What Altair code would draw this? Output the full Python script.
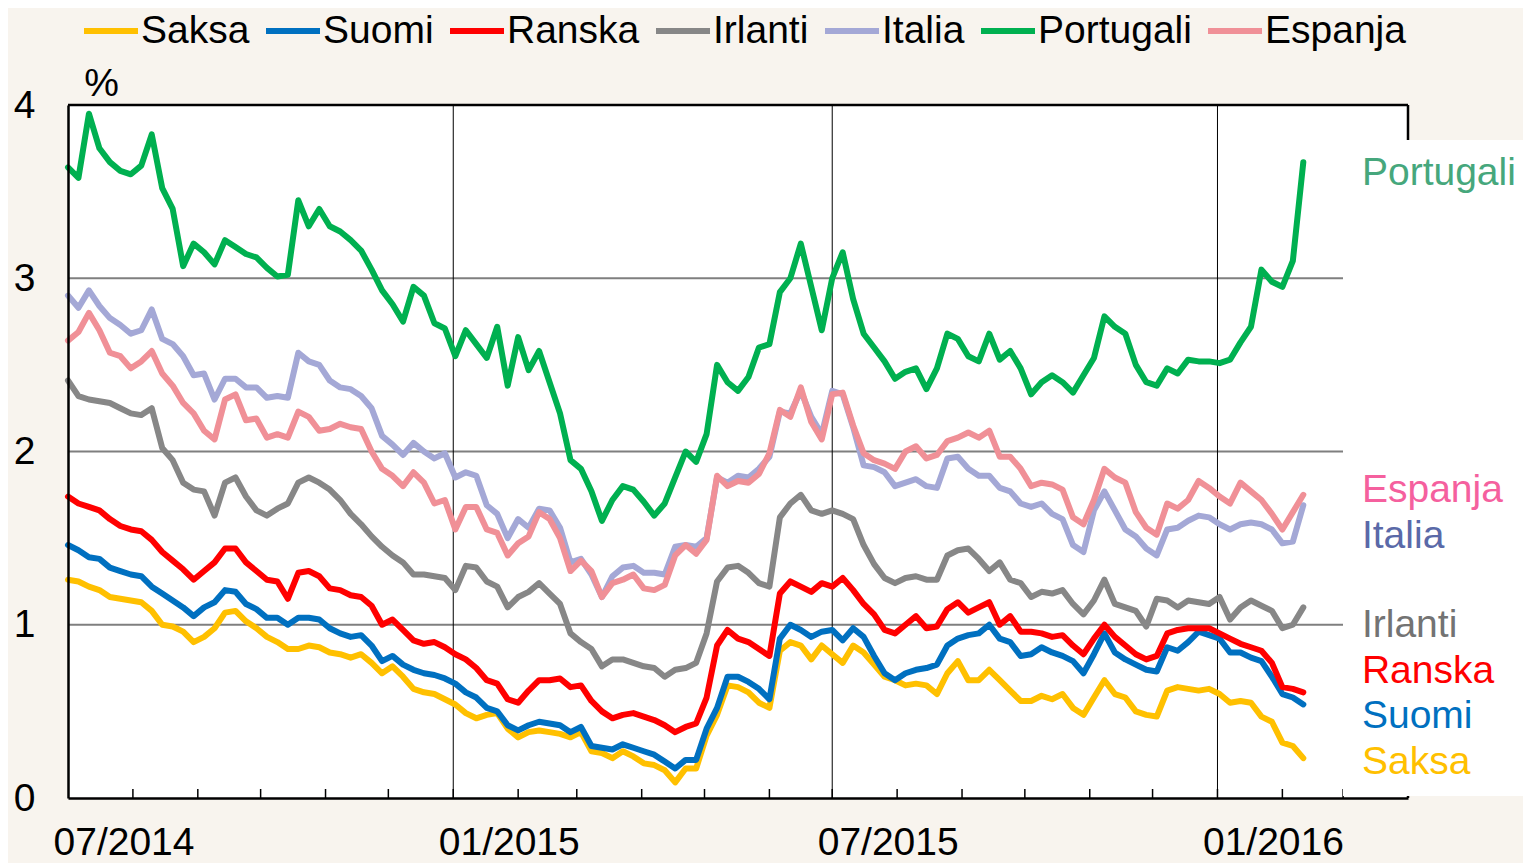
import altair as alt
import pandas as pd

# ---------------- data ----------------
n_points = 119
dates = pd.date_range("2014-07-01", periods=n_points, freq="5D").strftime("%Y-%m-%d").tolist()

series_names = ["Saksa", "Suomi", "Ranska", "Irlanti", "Italia", "Portugali", "Espanja"]
line_colors = ["#FFC000", "#0070C0", "#FF0000", "#878787", "#A4A8D6", "#00B050", "#F09097"]
label_colors = ["#FFC000", "#0070C0", "#FF0000", "#737373", "#5A69A8", "#46A77C", "#F5609E"]

saksa = [1.26, 1.25, 1.22, 1.20, 1.16, 1.15, 1.14, 1.13, 1.08, 1.00, 0.99, 0.96, 0.90, 0.93, 0.98, 1.07, 1.08, 1.02, 0.98, 0.93, 0.90,
         0.86, 0.86, 0.88, 0.87, 0.84, 0.83, 0.81, 0.83, 0.78, 0.72, 0.76, 0.70, 0.63, 0.61, 0.60, 0.57, 0.54, 0.49, 0.46, 0.48,
         0.49, 0.40, 0.35, 0.38, 0.39, 0.38, 0.37, 0.35, 0.38, 0.27, 0.26, 0.23, 0.27, 0.24, 0.20, 0.19, 0.16, 0.09, 0.17, 0.17,
         0.36, 0.48, 0.65, 0.64, 0.61, 0.55, 0.52, 0.85, 0.90, 0.88, 0.80, 0.88, 0.83, 0.78, 0.88, 0.84, 0.77, 0.70, 0.68, 0.65,
         0.66, 0.65, 0.60, 0.72, 0.79, 0.68, 0.68, 0.74, 0.68, 0.62, 0.56, 0.56, 0.59, 0.57, 0.60, 0.52, 0.48, 0.58, 0.68, 0.60,
         0.58, 0.50, 0.48, 0.47, 0.62, 0.64, 0.63, 0.62, 0.63, 0.60, 0.55, 0.56, 0.55, 0.47, 0.44, 0.32, 0.30, 0.23]
suomi = [1.46, 1.43, 1.39, 1.38, 1.33, 1.31, 1.29, 1.28, 1.22, 1.18, 1.14, 1.10, 1.05, 1.10, 1.13, 1.20, 1.19, 1.12, 1.09, 1.04, 1.04,
         1.00, 1.04, 1.04, 1.03, 0.98, 0.95, 0.93, 0.94, 0.88, 0.79, 0.82, 0.77, 0.74, 0.72, 0.71, 0.69, 0.66, 0.61, 0.58, 0.52,
         0.50, 0.42, 0.39, 0.42, 0.44, 0.43, 0.42, 0.38, 0.41, 0.30, 0.29, 0.28, 0.31, 0.29, 0.27, 0.25, 0.21, 0.17, 0.22, 0.22,
         0.40, 0.52, 0.70, 0.70, 0.67, 0.63, 0.57, 0.92, 1.00, 0.97, 0.93, 0.96, 0.97, 0.91, 0.98, 0.93, 0.82, 0.72, 0.68, 0.72,
         0.74, 0.75, 0.77, 0.88, 0.92, 0.94, 0.95, 1.00, 0.92, 0.90, 0.82, 0.83, 0.87, 0.84, 0.82, 0.79, 0.72, 0.83, 0.95, 0.84,
         0.80, 0.77, 0.74, 0.73, 0.87, 0.85, 0.90, 0.96, 0.94, 0.92, 0.84, 0.84, 0.81, 0.79, 0.70, 0.60, 0.58, 0.54]
ranska = [1.74, 1.70, 1.68, 1.66, 1.61, 1.57, 1.55, 1.54, 1.49, 1.42, 1.37, 1.32, 1.26, 1.31, 1.36, 1.44, 1.44, 1.36, 1.31, 1.26, 1.25,
          1.15, 1.30, 1.31, 1.28, 1.21, 1.20, 1.17, 1.16, 1.11, 1.00, 1.03, 0.97, 0.91, 0.89, 0.90, 0.87, 0.83, 0.80, 0.75, 0.68,
          0.66, 0.57, 0.55, 0.62, 0.68, 0.68, 0.69, 0.64, 0.65, 0.56, 0.50, 0.46, 0.48, 0.49, 0.47, 0.45, 0.42, 0.38, 0.41, 0.43,
          0.58, 0.88, 0.97, 0.92, 0.90, 0.86, 0.82, 1.18, 1.25, 1.22, 1.19, 1.24, 1.22, 1.27, 1.20, 1.12, 1.06, 0.97, 0.95, 1.00,
          1.05, 0.98, 0.99, 1.09, 1.13, 1.07, 1.10, 1.13, 1.00, 1.05, 0.96, 0.96, 0.95, 0.93, 0.94, 0.88, 0.83, 0.92, 1.00, 0.93,
          0.88, 0.83, 0.80, 0.82, 0.95, 0.97, 0.98, 0.98, 0.98, 0.95, 0.92, 0.89, 0.87, 0.85, 0.78, 0.64, 0.63, 0.61]
irlanti = [2.41, 2.32, 2.30, 2.29, 2.28, 2.25, 2.22, 2.21, 2.25, 2.02, 1.95, 1.82, 1.78, 1.77, 1.63, 1.82, 1.85, 1.74, 1.66, 1.63, 1.67,
           1.70, 1.82, 1.85, 1.82, 1.78, 1.72, 1.64, 1.58, 1.51, 1.45, 1.40, 1.36, 1.29, 1.29, 1.28, 1.27, 1.20, 1.34, 1.33, 1.25,
           1.22, 1.10, 1.16, 1.19, 1.24, 1.18, 1.12, 0.95, 0.90, 0.86, 0.76, 0.80, 0.80, 0.78, 0.76, 0.75, 0.70, 0.74, 0.75, 0.78,
           0.95, 1.25, 1.33, 1.34, 1.30, 1.24, 1.22, 1.62, 1.70, 1.75, 1.66, 1.64, 1.66, 1.64, 1.61, 1.46, 1.35, 1.27, 1.24, 1.27,
           1.28, 1.26, 1.26, 1.40, 1.43, 1.44, 1.38, 1.31, 1.36, 1.26, 1.24, 1.16, 1.19, 1.18, 1.20, 1.12, 1.06, 1.14, 1.26, 1.12,
           1.10, 1.08, 0.99, 1.15, 1.14, 1.10, 1.14, 1.13, 1.12, 1.16, 1.03, 1.10, 1.14, 1.11, 1.08, 0.98, 1.00, 1.10]
italia = [2.90, 2.83, 2.93, 2.84, 2.77, 2.73, 2.68, 2.70, 2.82, 2.65, 2.62, 2.55, 2.44, 2.45, 2.30, 2.42, 2.42, 2.37, 2.37, 2.31, 2.32,
          2.31, 2.57, 2.52, 2.50, 2.41, 2.37, 2.36, 2.32, 2.25, 2.09, 2.04, 1.98, 2.05, 2.00, 1.96, 1.99, 1.85, 1.88, 1.86, 1.69,
          1.64, 1.50, 1.61, 1.56, 1.67, 1.66, 1.56, 1.36, 1.38, 1.29, 1.16, 1.28, 1.33, 1.34, 1.30, 1.30, 1.29, 1.45, 1.46, 1.45,
          1.50, 1.85, 1.82, 1.86, 1.85, 1.90, 1.97, 2.23, 2.22, 2.35, 2.20, 2.10, 2.35, 2.33, 2.14, 1.92, 1.91, 1.88, 1.80, 1.82,
          1.84, 1.80, 1.79, 1.96, 1.97, 1.90, 1.86, 1.86, 1.79, 1.77, 1.70, 1.68, 1.70, 1.64, 1.61, 1.46, 1.42, 1.66, 1.77, 1.66,
          1.55, 1.51, 1.44, 1.40, 1.55, 1.56, 1.60, 1.63, 1.62, 1.58, 1.55, 1.58, 1.59, 1.58, 1.55, 1.47, 1.48, 1.69]
portugali = [3.64, 3.58, 3.95, 3.75, 3.67, 3.62, 3.60, 3.65, 3.83, 3.52, 3.40, 3.07, 3.20, 3.15, 3.08, 3.22, 3.18, 3.14, 3.12, 3.06, 3.01,
             3.02, 3.45, 3.30, 3.40, 3.30, 3.27, 3.22, 3.16, 3.05, 2.93, 2.85, 2.75, 2.95, 2.90, 2.74, 2.71, 2.55, 2.70, 2.62, 2.54,
             2.72, 2.38, 2.66, 2.47, 2.58, 2.40, 2.22, 1.95, 1.90, 1.77, 1.60, 1.72, 1.80, 1.78, 1.71, 1.63, 1.70, 1.85, 2.00, 1.94,
             2.10, 2.50, 2.40, 2.35, 2.43, 2.60, 2.62, 2.92, 3.00, 3.20, 2.95, 2.70, 3.00, 3.15, 2.88, 2.68, 2.60, 2.52, 2.42, 2.46,
             2.48, 2.36, 2.48, 2.68, 2.65, 2.55, 2.52, 2.68, 2.53, 2.58, 2.48, 2.33, 2.40, 2.44, 2.40, 2.34, 2.44, 2.54, 2.78, 2.72,
             2.68, 2.50, 2.40, 2.38, 2.48, 2.45, 2.53, 2.52, 2.52, 2.51, 2.53, 2.63, 2.72, 3.05, 2.98, 2.95, 3.10, 3.67]
espanja = [2.64, 2.69, 2.80, 2.70, 2.57, 2.55, 2.48, 2.52, 2.58, 2.45, 2.38, 2.28, 2.22, 2.12, 2.07, 2.30, 2.33, 2.18, 2.19, 2.08, 2.10,
           2.08, 2.23, 2.20, 2.12, 2.13, 2.16, 2.14, 2.13, 2.00, 1.90, 1.86, 1.80, 1.88, 1.82, 1.70, 1.72, 1.55, 1.68, 1.68, 1.55,
           1.53, 1.40, 1.47, 1.51, 1.65, 1.61, 1.50, 1.31, 1.37, 1.31, 1.16, 1.24, 1.26, 1.29, 1.21, 1.20, 1.23, 1.40, 1.46, 1.41,
           1.49, 1.86, 1.80, 1.83, 1.82, 1.87, 1.99, 2.24, 2.20, 2.37, 2.17, 2.07, 2.33, 2.34, 2.15, 1.99, 1.95, 1.93, 1.90, 2.00,
           2.03, 1.96, 1.98, 2.06, 2.08, 2.11, 2.08, 2.12, 1.97, 1.97, 1.90, 1.80, 1.82, 1.81, 1.78, 1.62, 1.58, 1.72, 1.90, 1.85,
           1.82, 1.65, 1.56, 1.52, 1.70, 1.67, 1.72, 1.83, 1.79, 1.74, 1.70, 1.82, 1.77, 1.72, 1.64, 1.55, 1.65, 1.75]

series_values = [saksa, suomi, ranska, irlanti, italia, portugali, espanja]

# end-of-line labels (annotation anchors)
label_date = "2016-03-10"
label_values = [0.21, 0.475, 0.735, 1.0, 1.515, 3.61, 1.78]

y_ticks = [0, 1, 2, 3, 4]
grid_levels = [1, 2, 3]
halfyear_lines = ["2015-01-01", "2015-07-01", "2016-01-01"]
month_ticks = pd.date_range("2014-08-01", "2016-03-01", freq="MS").strftime("%Y-%m-%d").tolist()

rows = []
for name, vals in zip(series_names, series_values):
    assert len(vals) == n_points, (name, len(vals))
    for d, v in zip(dates, vals):
        rows.append({"date": d, "value": v, "series": name})
df = pd.DataFrame(rows)

# ---------------- chart ----------------
W, H = 1340, 693
FONT = "Liberation Sans"
FS = 39


def dt(y, m, d):
    return alt.DateTime(year=y, month=m, date=d, utc=True)


xscale = alt.Scale(type="utc", domain=[dt(2014, 7, 1), dt(2016, 4, 1)])
yscale = alt.Scale(domain=[0, 4], nice=False, zero=False)

x_axis = alt.Axis(values=[dt(2014, 7, 1), dt(2015, 1, 1), dt(2015, 7, 1), dt(2016, 1, 1)],
                  labelExpr="utcFormat(datum.value, '%m/%Y')", labelAlign="left", labelOffset=-15,
                  labelPadding=25, labelBaseline="top", tickSize=0, grid=False,
                  domainColor="black", domainWidth=2.5, labelFontSize=FS, labelColor="black",
                  labelFont=FONT, title=None, zindex=1, labelFlush=False, labelOverlap=False)
y_axis = alt.Axis(values=y_ticks, tickSize=0, labelPadding=33, grid=False,
                  domainColor="black", domainWidth=2.5, labelFontSize=FS, labelColor="black",
                  labelFont=FONT, title="%", titleAngle=0, titleX=33, titleY=-22,
                  titleAlign="center", titleBaseline="middle", titleFontSize=FS,
                  titleFontWeight="normal", titleColor="black", titleFont=FONT,
                  zindex=1, labelFlush=False)

X = alt.X("date:T", scale=xscale, axis=x_axis)
Y = alt.Y("value:Q", scale=yscale, axis=y_axis)

legend = alt.Legend(orient="none", legendX=13, legendY=-104, direction="horizontal", columns=7,
                    title=None, symbolType="stroke", symbolSize=2916, symbolStrokeWidth=6,
                    labelFontSize=FS, labelColor="black", labelFont=FONT, columnPadding=4,
                    labelOffset=0, padding=0, labelLimit=400)
color_scale = alt.Scale(domain=series_names, range=line_colors)

grid_df = pd.DataFrame({"value": grid_levels, "date": ["2014-07-01"] * 3, "date2": ["2016-03-01"] * 3})
grid = alt.Chart(grid_df).mark_rule(color="#7f7f7f", strokeWidth=2).encode(x=X, x2="date2:T", y=Y)

vlines = alt.Chart(pd.DataFrame({"date": halfyear_lines})).mark_rule(
    color="black", strokeWidth=1).encode(x=X)

ticks = alt.Chart(pd.DataFrame({"date": month_ticks})).mark_rule(
    color="black", strokeWidth=1.5).encode(x=X, y=alt.value(H), y2=alt.value(H - 9))

line_layers = []
for name in series_names:
    line_layers.append(
        alt.Chart(df).transform_filter(alt.datum.series == name)
        .mark_line(strokeWidth=6, strokeCap="round", strokeJoin="round")
        .encode(x=X, y=Y, color=alt.Color("series:N", scale=color_scale, legend=legend))
    )

frame_top = alt.Chart(pd.DataFrame({"value": [4]})).mark_rule(color="black", strokeWidth=2.5).encode(y=Y)
frame_right = alt.Chart(pd.DataFrame({"date": ["2016-04-01"]})).mark_rule(
    color="black", strokeWidth=2.5).encode(x=X)

white_box = alt.Chart(pd.DataFrame({"a": [0]})).mark_rect(color="white").encode(
    x=alt.value(1275), x2=alt.value(1470), y=alt.value(35), y2=alt.value(691))

label_layers = []
for name, val, col in zip(series_names, label_values, label_colors):
    label_layers.append(
        alt.Chart(pd.DataFrame({"date": [label_date], "value": [val], "series": [name]}))
        .mark_text(align="left", baseline="middle", fontSize=FS, font=FONT, color=col)
        .encode(x=X, y=Y, text="series:N")
    )

chart = alt.layer(grid, vlines, ticks, *line_layers, frame_top, frame_right, white_box, *label_layers).properties(
    width=W, height=H,
    padding={"left": 60, "top": 97, "right": 115, "bottom": 65},
    autosize=alt.AutoSizeParams(type="none"),
    background="#F8F4EE",
).configure(font=FONT).configure_view(fill="white", stroke="transparent")

chart.save("out.html", embed_options={"renderer": "svg", "actions": False})
